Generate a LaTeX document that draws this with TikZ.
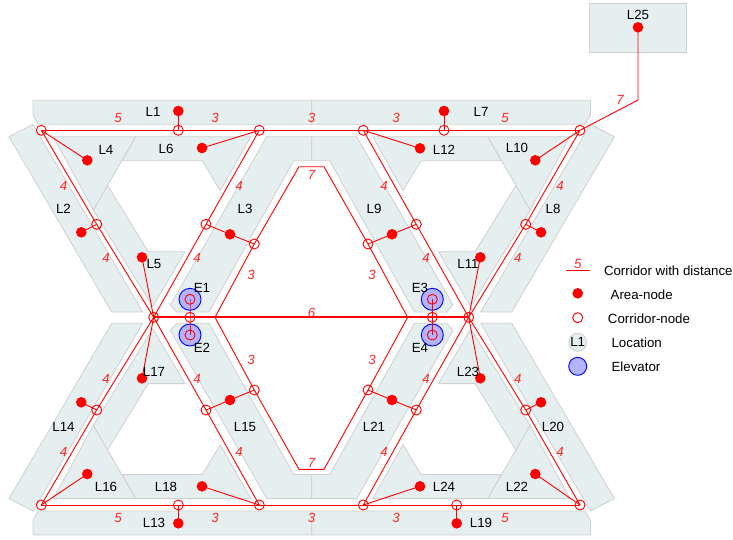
\documentclass[tikz,border=0pt]{standalone}
\usepackage{fontspec}
\setmainfont{Liberation Sans}
\definecolor{zonefill}{HTML}{E5EFEF}
\definecolor{zoneline}{HTML}{D0D0D0}
\definecolor{elevfill}{HTML}{B3B3FF}
\newcommand{\quarterzones}{%
  \draw[zone] (311.7,100.3) -- (33,100.3) -- (33,115) -- (38.3,124.3) -- (311.7,124.3) -- cycle;
  \draw[zone] (33,124.3) -- (9,136.7) -- (111.7,312) -- (142.7,312) -- cycle;
  \draw[zone] (107.3,185) -- (148.3,251.7) -- (185,251.7) -- (152.7,306.7) -- (93.3,210) -- cycle;
  \draw[zone] (53.3,136.7) -- (135.7,136.7) -- (93.3,210) -- cycle;
  \draw[zone] (135.7,136.7) -- (250.7,136.7) -- (220.3,190.7) -- (202.3,160.7) -- (122.3,160.7) -- cycle;
  \draw[zone] (266.7,136.7) -- (311.7,136.7) -- (311.7,160.7) -- (293.7,160.7) -- (209,312) -- (176.7,312) -- (170.3,305) -- cycle;
}
\tikzset{
  x=1pt,y=-1pt,
  zone/.style={fill=zonefill,draw=zoneline,line width=0.8pt,line join=round},
  wire/.style={draw=red,line width=0.9pt},
  thickwire/.style={draw=red,line width=1.7pt},
  area/.style={circle,fill=red,inner sep=0pt,minimum size=10.6pt},
  corr/.style={circle,draw=red,line width=0.9pt,inner sep=0pt,minimum size=10pt},
  elev/.style={circle,fill=elevfill,draw=blue,line width=0.9pt,inner sep=0pt,minimum size=22pt},
  lbl/.style={font=\fontsize{13.3}{15}\selectfont,text=black,inner sep=0pt},
  dist/.style={font=\fontsize{13.3}{15}\selectfont\itshape,text=red!85!white,inner sep=0pt},
}
\begin{document}
\begin{tikzpicture}
\useasboundingbox (0,0) rectangle (733,539);
% location shapes
\quarterzones
\begin{scope}[cm={-1,0,0,1,(623.4,0)}]\quarterzones\end{scope}
\begin{scope}[cm={1,0,0,-1,(0,635.3)}]\quarterzones\end{scope}
\begin{scope}[cm={-1,0,0,-1,(623.4,635.3)}]\quarterzones\end{scope}
\draw[zone] (589.3,3.3) rectangle (686.7,52);
% elevators
\node[elev] (e1) at (190,299.3) {};
\node[elev] (e2) at (190,335) {};
\node[elev] (e3) at (432.3,299.3) {};
\node[elev] (e4) at (432.3,335) {};
% corridor nodes
\node[corr] (tl) at (41.3,130.3) {};
\node[corr] (t1) at (178.3,130.3) {};
\node[corr] (t2) at (259.3,130.3) {};
\node[corr] (t3) at (363.3,130.3) {};
\node[corr] (t4) at (444,130.3) {};
\node[corr] (tr) at (580,130.3) {};
\node[corr] (bl) at (41.3,505) {};
\node[corr] (b1) at (178.3,505) {};
\node[corr] (b2) at (259.3,505) {};
\node[corr] (b3) at (363.3,505) {};
\node[corr] (b4) at (456.7,505) {};
\node[corr] (br) at (580,505) {};
\node[corr] (ul) at (96.7,224.3) {};
\node[corr] (um) at (206,224.3) {};
\node[corr] (un) at (254.3,244) {};
\node[corr] (uo) at (368,244) {};
\node[corr] (up) at (416.3,224.3) {};
\node[corr] (ur) at (525.7,224.3) {};
\node[corr] (dl) at (96.7,410) {};
\node[corr] (dm) at (206,410) {};
\node[corr] (dn) at (254.3,390) {};
\node[corr] (do) at (368,390) {};
\node[corr] (dp) at (416.3,410) {};
\node[corr] (dr) at (525.7,410) {};
\node[corr] (hl) at (153.7,317.3) {};
\node[corr] (cl) at (190,317.3) {};
\node[corr] (cr) at (432.3,317.3) {};
\node[corr] (hr) at (468.7,317.3) {};
\node[corr] (ie1) at (190,299.3) {};
\node[corr] (ie2) at (190,335) {};
\node[corr] (ie3) at (432.3,299.3) {};
\node[corr] (ie4) at (432.3,335) {};
% junctions without a circle
\coordinate (jl) at (215,317.3);
\coordinate (jr) at (407.7,317.3);
\coordinate (jtl) at (299,166.7);
\coordinate (jtr) at (324,166.7);
\coordinate (jbl) at (299,469.3);
\coordinate (jbr) at (324,469.3);
\coordinate (j25) at (638,100);
% area nodes
\node[area] (a1) at (178.3,111) {};
\node[area] (a2) at (81.3,232.3) {};
\node[area] (a3) at (230,234.3) {};
\node[area] (a4) at (87.3,160.3) {};
\node[area] (a5) at (142,257.3) {};
\node[area] (a6) at (202,148) {};
\node[area] (a7) at (444,111) {};
\node[area] (a8) at (541,232.3) {};
\node[area] (a9) at (392,234.3) {};
\node[area] (a10) at (535.3,160.3) {};
\node[area] (a11) at (480.3,257.3) {};
\node[area] (a12) at (420,148.3) {};
\node[area] (a13) at (178.3,523.3) {};
\node[area] (a14) at (81.3,402.3) {};
\node[area] (a15) at (230,400) {};
\node[area] (a16) at (87.3,474) {};
\node[area] (a17) at (142,378.3) {};
\node[area] (a18) at (202,486.3) {};
\node[area] (a19) at (456.7,523.3) {};
\node[area] (a20) at (541,402.3) {};
\node[area] (a21) at (392,400) {};
\node[area] (a22) at (535.3,474) {};
\node[area] (a23) at (480.3,378.3) {};
\node[area] (a24) at (420,486.3) {};
\node[area] (a25) at (638,27.3) {};
% corridors
\draw[wire] (tl.center) -- (t1.center) -- (t2.center) -- (t3.center) -- (t4.center) -- (tr.center);
\draw[wire] (bl.center) -- (b1.center) -- (b2.center) -- (b3.center) -- (b4.center) -- (br.center);
\draw[wire] (tl.center) -- (ul.center) -- (hl.center) -- (dl.center) -- (bl.center);
\draw[wire] (t2.center) -- (um.center) -- (hl.center) -- (dm.center) -- (b2.center);
\draw[wire] (t3.center) -- (up.center) -- (hr.center) -- (dp.center) -- (b3.center);
\draw[wire] (tr.center) -- (ur.center) -- (hr.center) -- (dr.center) -- (br.center);
\draw[wire] (jl) -- (un.center) -- (jtl) -- (jtr) -- (uo.center) -- (jr);
\draw[wire] (jl) -- (dn.center) -- (jbl) -- (jbr) -- (do.center) -- (jr);
\draw[thickwire] (hl.center) -- (cl.center) -- (jl) -- (jr) -- (cr.center) -- (hr.center);
% links
\draw[wire] (a1.center) -- (t1.center);
\draw[wire] (a2.center) -- (ul.center);
\draw[wire] (um.center) -- (a3.center) -- (un.center);
\draw[wire] (a4.center) -- (tl.center);
\draw[wire] (a5.center) -- (hl.center);
\draw[wire] (a6.center) -- (t2.center);
\draw[wire] (a7.center) -- (t4.center);
\draw[wire] (a8.center) -- (ur.center);
\draw[wire] (uo.center) -- (a9.center) -- (up.center);
\draw[wire] (a10.center) -- (tr.center);
\draw[wire] (a11.center) -- (hr.center);
\draw[wire] (a12.center) -- (t3.center);
\draw[wire] (a13.center) -- (b1.center);
\draw[wire] (a14.center) -- (dl.center);
\draw[wire] (dm.center) -- (a15.center) -- (dn.center);
\draw[wire] (a16.center) -- (bl.center);
\draw[wire] (a17.center) -- (hl.center);
\draw[wire] (a18.center) -- (b2.center);
\draw[wire] (a19.center) -- (b4.center);
\draw[wire] (a20.center) -- (dr.center);
\draw[wire] (do.center) -- (a21.center) -- (dp.center);
\draw[wire] (a22.center) -- (br.center);
\draw[wire] (a23.center) -- (hr.center);
\draw[wire] (a24.center) -- (b3.center);
\draw[wire] (a25.center) -- (j25) -- (tr.center);
\draw[wire] (ie1.center) -- (cl.center) -- (ie2.center);
\draw[wire] (ie3.center) -- (cr.center) -- (ie4.center);
% location labels
\node[lbl] (n1) at (153,112) {L1};
\node[lbl] (n2) at (63.5,209) {L2};
\node[lbl] (n3) at (245,209) {L3};
\node[lbl] (n4) at (106,150) {L4};
\node[lbl] (n5) at (154,263.5) {L5};
\node[lbl] (n6) at (166,149) {L6};
\node[lbl] (n7) at (481,112) {L7};
\node[lbl] (n8) at (553,209) {L8};
\node[lbl] (n9) at (374,209) {L9};
\node[lbl] (n10) at (517,148) {L10};
\node[lbl] (n11) at (468,263.5) {L11};
\node[lbl] (n12) at (444,150) {L12};
\node[lbl] (n13) at (154,523) {L13};
\node[lbl] (n14) at (63.5,427) {L14};
\node[lbl] (n15) at (245,427) {L15};
\node[lbl] (n16) at (106,487) {L16};
\node[lbl] (n17) at (154,372) {L17};
\node[lbl] (n18) at (166,487) {L18};
\node[lbl] (n19) at (481,523) {L19};
\node[lbl] (n20) at (553,427) {L20};
\node[lbl] (n21) at (374,427) {L21};
\node[lbl] (n22) at (517,487) {L22};
\node[lbl] (n23) at (468,372) {L23};
\node[lbl] (n24) at (444,487) {L24};
\node[lbl] (n25) at (638,15) {L25};
\node[lbl] (ne1) at (202,288) {E1};
\node[lbl] (ne2) at (202,348) {E2};
\node[lbl] (ne3) at (420,288) {E3};
\node[lbl] (ne4) at (420,348) {E4};
% distances
\node[dist] (d01) at (118,118) {5};
\node[dist] (d02) at (215,118) {3};
\node[dist] (d03) at (311.5,118) {3};
\node[dist] (d04) at (396,118) {3};
\node[dist] (d05) at (505,118) {5};
\node[dist] (d06) at (63.5,185.5) {4};
\node[dist] (d07) at (106,257.5) {4};
\node[dist] (d08) at (239,185.5) {4};
\node[dist] (d09) at (197,257.5) {4};
\node[dist] (d10) at (251,275) {3};
\node[dist] (d11) at (311.5,175) {7};
\node[dist] (d12) at (311.5,312.5) {6};
\node[dist] (d13) at (372,275) {3};
\node[dist] (d14) at (384,185.5) {4};
\node[dist] (d15) at (426,257.5) {4};
\node[dist] (d16) at (560,185.5) {4};
\node[dist] (d17) at (517.7,257.5) {4};
\node[dist] (d18) at (620,100) {7};
\node[dist] (d19) at (118,517.5) {5};
\node[dist] (d20) at (215,517.5) {3};
\node[dist] (d21) at (311.5,517.5) {3};
\node[dist] (d22) at (396,517.5) {3};
\node[dist] (d23) at (505,517.5) {5};
\node[dist] (d24) at (63.5,452) {4};
\node[dist] (d25) at (106,379) {4};
\node[dist] (d26) at (239,452) {4};
\node[dist] (d27) at (197,379) {4};
\node[dist] (d28) at (251,360) {3};
\node[dist] (d29) at (311.5,463) {7};
\node[dist] (d30) at (372,360) {3};
\node[dist] (d31) at (384,452) {4};
\node[dist] (d32) at (426,379) {4};
\node[dist] (d33) at (560,452) {4};
\node[dist] (d34) at (517.7,379) {4};
% legend
\coordinate (lg1) at (565.7,270);
\coordinate (lg2) at (590,270);
\draw[wire] (lg1) -- (lg2);
\node[dist] (lg5) at (577.7,263.5) {5};
\node[lbl] (lgt1) at (668.3,270.7) {Corridor with distance};
\node[area] (lga) at (577.7,293.3) {};
\node[lbl] (lgt2) at (641.7,294.7) {Area-node};
\node[corr] (lgc) at (577.7,317.7) {};
\node[lbl] (lgt3) at (649,318.7) {Corridor-node};
\node[circle,fill=zonefill,draw=zoneline,line width=0.8pt,inner sep=0pt,minimum size=18pt,lbl] (lgl) at (577.7,342.3) {L1};
\node[lbl] (lgt4) at (636.7,342.7) {Location};
\node[elev,minimum size=18pt] (lge) at (577.7,366.3) {};
\node[lbl] (lgt5) at (636,366.7) {Elevator};
\end{tikzpicture}
\end{document}
